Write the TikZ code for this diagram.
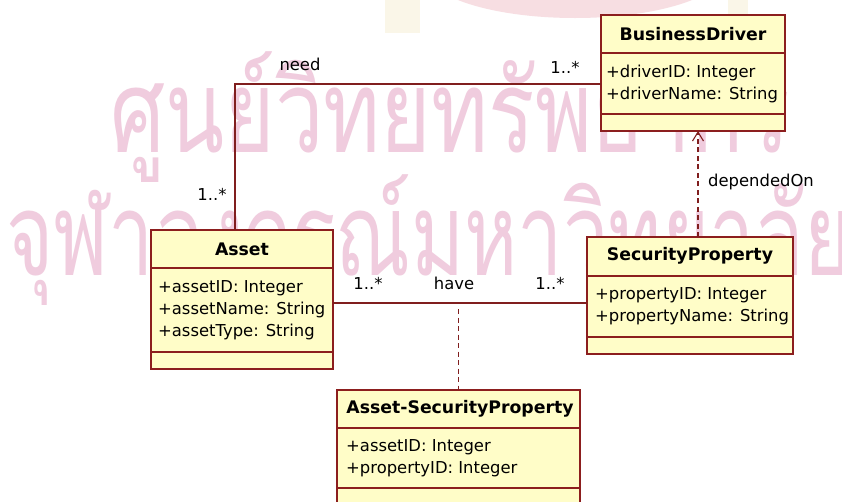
\documentclass[tikz,border=0pt]{standalone}
\usepackage{fontspec}
\setmainfont{DejaVu Sans}
\newfontfamily\thaifont[Script=Thai]{Loma}
\usetikzlibrary{arrows.meta}
\definecolor{boxfill}{RGB}{255,253,200}
\definecolor{boxline}{RGB}{140,30,30}
\definecolor{connc}{RGB}{128,30,30}
\definecolor{wm}{RGB}{240,204,222}
\definecolor{logopink}{RGB}{247,222,226}
\definecolor{logocream}{RGB}{250,246,232}
\newcommand{\wmtexta}{ศูนย์วิทยทรัพยากร}
\newcommand{\wmtextb}{จุฬาลงกรณ์มหาวิทยาลัย}
\newlength{\wmwa}
\newlength{\wmwb}
\begin{document}
\settowidth{\wmwa}{\thaifont\fontsize{115}{120}\selectfont\wmtexta}
\settowidth{\wmwb}{\thaifont\fontsize{115}{120}\selectfont\wmtextb}
\pgfmathsetlength{\wmwb}{0.935*680pt*(\wmwb/\wmwa)}
\begin{tikzpicture}[x=1pt,y=-1pt,
  cls/.style={draw=boxline, fill=boxfill, line width=1.3pt, anchor=north west, inner sep=0pt, outer sep=0pt},
  sep/.style={draw=boxline, line width=1.3pt},
  title/.style={font=\fontsize{17.3}{19}\selectfont\bfseries, inner sep=0pt, anchor=center},
  attr/.style={font=\fontsize{16.4}{18}\selectfont, inner sep=0pt, anchor=west},
  lbl/.style={font=\fontsize{16.4}{18}\selectfont, inner sep=0pt},
  conn/.style={draw=connc, line width=1.1pt},
  dep/.style={conn, dash pattern=on 5pt off 3.5pt},
  wmark/.style={font=\thaifont\fontsize{115}{120}\selectfont, text=wm, inner sep=0pt, anchor=base west}]
\useasboundingbox (0,0) rectangle (842,501);
\fill[white] (0,0) rectangle (842,501);
% faint logo remnants at the top
\fill[logopink] (575,-30) ellipse [x radius=150pt, y radius=48pt];
\fill[logocream] (385,0) rectangle (420,33);
\fill[logocream] (728,0) rectangle (748,30);
% watermark
\node[wmark] (wm1) at (110,152) {\resizebox{680pt}{\height}{\wmtexta}};
\node[wmark] (wm2) at (6,275) {\resizebox{\wmwb}{\height}{\wmtextb}};

% BusinessDriver
\node[cls, minimum width=184pt, minimum height=116pt] (bd) at (601,15) {};
\draw[sep] (bd.west |- 0,53) -- (bd.east |- 0,53);
\draw[sep] (bd.west |- 0,114) -- (bd.east |- 0,114);
\node[title] (bdt) at (693,34) {BusinessDriver};
\node[attr] (bda1) at (606,73) {+driverID: Integer};
\node[attr] (bda2) at (606,95) {+driverName: String};

% Asset
\node[cls, minimum width=182pt, minimum height=139pt] (as) at (151,230) {};
\draw[sep] (as.west |- 0,268) -- (as.east |- 0,268);
\draw[sep] (as.west |- 0,352) -- (as.east |- 0,352);
\node[title] (ast) at (242,249) {Asset};
\node[attr] (asa1) at (158,288) {+assetID: Integer};
\node[attr] (asa2) at (158,310) {+assetName: String};
\node[attr] (asa3) at (158,332) {+assetType: String};

% SecurityProperty
\node[cls, minimum width=206pt, minimum height=117pt] (sp) at (587,237) {};
\draw[sep] (sp.west |- 0,276) -- (sp.east |- 0,276);
\draw[sep] (sp.west |- 0,337) -- (sp.east |- 0,337);
\node[title] (spt) at (690,256) {SecurityProperty};
\node[attr] (spa1) at (595,295) {+propertyID: Integer};
\node[attr] (spa2) at (595,317) {+propertyName: String};

% Asset-SecurityProperty
\node[cls, minimum width=243pt, minimum height=125pt] (asp) at (337,390) {};
\draw[sep] (asp.west |- 0,428) -- (asp.east |- 0,428);
\draw[sep] (asp.west |- 0,488) -- (asp.east |- 0,488);
\node[title] (aspt) at (460,409) {Asset-SecurityProperty};
\node[attr] (aspa1) at (346,447) {+assetID: Integer};
\node[attr] (aspa2) at (346,469) {+propertyID: Integer};

% need association
\draw[conn] (bd.west |- 0,84) -| ([xshift=-7pt]as.north);
\node[lbl] (need) at (300,64) {need};
\node[lbl] (m1) at (565,67) {1..*};
\node[lbl] (m2) at (212,194) {1..*};

% have association
\draw[conn] (as.east |- 0,303) -- (sp.west |- 0,303);
\node[lbl] (m3) at (368,283) {1..*};
\node[lbl] (have) at (454,283) {have};
\node[lbl] (m4) at (550,283) {1..*};
\draw[dep] (asp.north |- 0,309) -- (asp.north);

% dependency
\draw[dep, -{Straight Barb[length=9pt,width=11pt]}] (sp.north -| 698,0) -- (bd.south -| 698,0);
\node[lbl, anchor=west] (dlbl) at (708,182) {dependedOn};
\end{tikzpicture}
\end{document}
